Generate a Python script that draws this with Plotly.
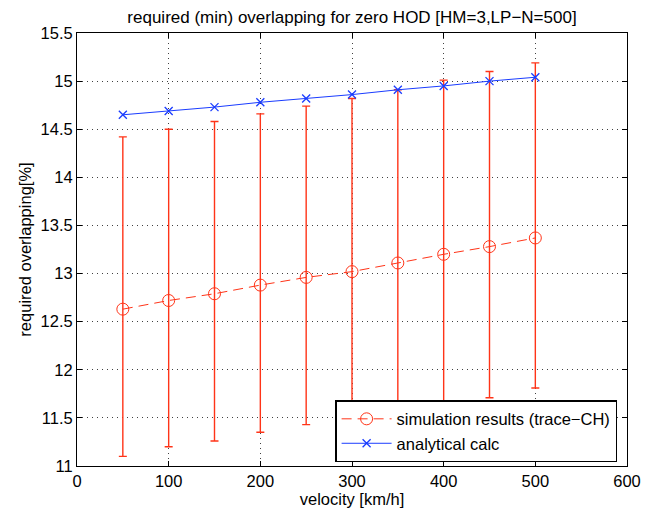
import plotly.graph_objects as go

velocity = [50, 100, 150, 200, 250, 300, 350, 400, 450, 500]
sim_mean = [12.63, 12.72, 12.79, 12.88, 12.96, 13.02, 13.11, 13.20, 13.28, 13.37]
sim_upper = [14.42, 14.50, 14.58, 14.66, 14.74, 14.82, 14.91, 15.01, 15.10, 15.19]
sim_lower = [11.10, 11.20, 11.26, 11.35, 11.43, 11.50, 11.58, 11.65, 11.71, 11.81]
analytical = [14.65, 14.69, 14.73, 14.78, 14.82, 14.86, 14.91, 14.95, 15.00, 15.04]

err_plus = [u - m for u, m in zip(sim_upper, sim_mean)]
err_minus = [m - l for m, l in zip(sim_mean, sim_lower)]

red = "#ff3418"
blue = "#1a3cff"
fam = "Liberation Sans, Arial, sans-serif"

fig = go.Figure()
fig.add_trace(go.Scatter(
    x=velocity, y=sim_mean, mode="lines+markers",
    name="simulation results (trace\u2212CH)",
    line=dict(color=red, width=1, dash="10px,6px"),
    marker=dict(symbol="circle-open", size=12, color=red, line=dict(width=1)),
    error_y=dict(type="data", symmetric=False, array=err_plus, arrayminus=err_minus,
                 color=red, thickness=1.4, width=4),
))
fig.add_trace(go.Scatter(
    x=velocity, y=analytical, mode="lines+markers",
    name="analytical calc",
    line=dict(color=blue, width=1),
    marker=dict(symbol="x-thin-open", size=8, color=blue, line=dict(width=1.3, color=blue)),
))

axis_common = dict(
    showline=True, linecolor="black", linewidth=1, mirror="allticks",
    ticks="inside", ticklen=5, tickcolor="black",
    showgrid=True, gridcolor="rgba(0,0,0,0.75)", griddash="1px,4px", gridwidth=1,
    zeroline=False, automargin=False,
    tickfont=dict(size=16.5, color="black", family=fam),
)

fig.update_layout(
    width=657, height=506,
    margin=dict(l=69, r=38, t=25, b=48),
    paper_bgcolor="white", plot_bgcolor="white",
    font=dict(family=fam, color="black", size=16.5),
    title=dict(text="required (min) overlapping for zero HOD [HM=3,LP\u2212N=500]",
               x=0.5, xanchor="center", xref="paper", y=0.994, yanchor="top",
               font=dict(size=17), automargin=False, pad=dict(t=0, b=0)),
    xaxis=dict(range=[0, 600], tickvals=[0, 100, 200, 300, 400, 500, 600],
               title=dict(text="velocity [km/h]", standoff=2, font=dict(size=16.5)),
               **axis_common),
    yaxis=dict(range=[11, 15.5], tickvals=[11, 11.5, 12, 12.5, 13, 13.5, 14, 14.5, 15, 15.5],
               ticktext=["11", "11.5", "12", "12.5", "13", "13.5", "14", "14.5", "15", "15.5"],
               title=dict(text="required overlapping[%]", standoff=4, font=dict(size=16.5)),
               **axis_common),
    legend=dict(x=0.982, xanchor="right", y=0.009, yanchor="bottom",
                bgcolor="white", bordercolor="black", borderwidth=1.5,
                font=dict(size=16.5), tracegroupgap=0, itemwidth=50),
    showlegend=True,
)

fig.write_html("out.html")
